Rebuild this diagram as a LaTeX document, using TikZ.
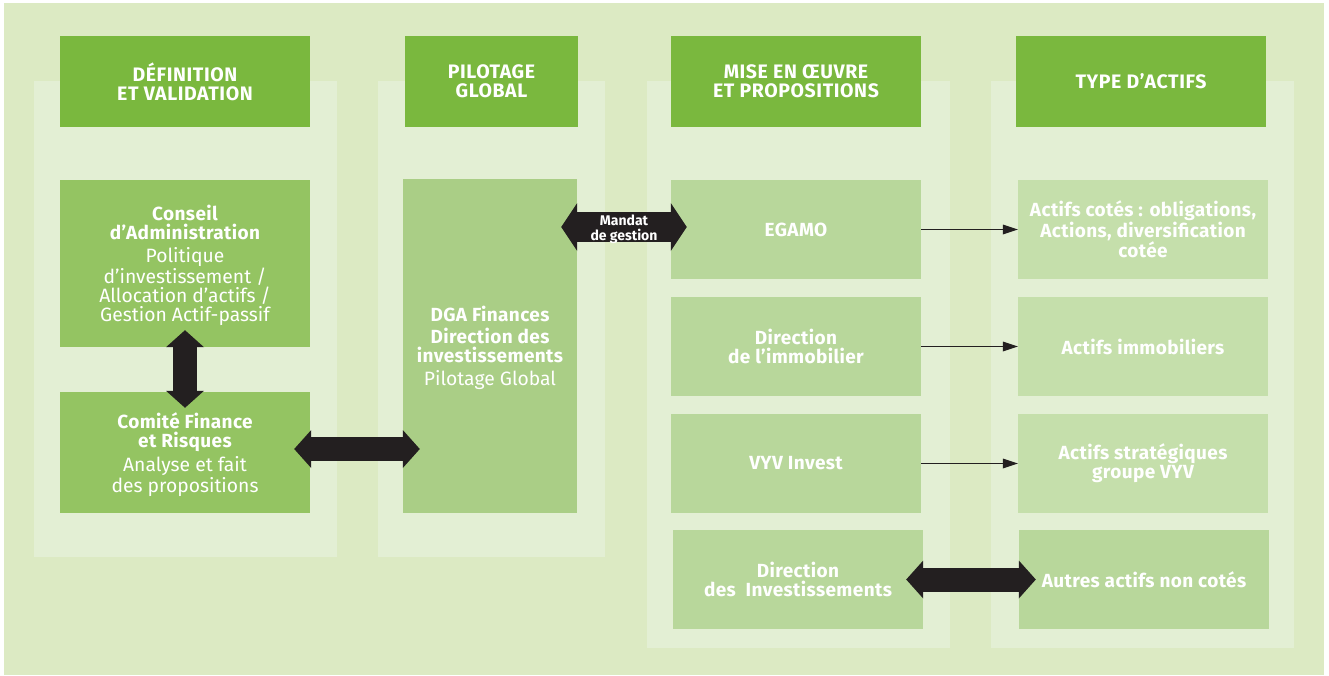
\documentclass[tikz,border=0pt]{standalone}
\usepackage{fontspec}
\setmainfont{Fira Sans}
\usetikzlibrary{arrows.meta}
\definecolor{BackClr}{RGB}{220,234,195}
\definecolor{PanelClr}{RGB}{227,239,212}
\definecolor{HeadClr}{RGB}{122,184,62}
\definecolor{BoardClr}{RGB}{148,196,98}
\definecolor{PilotClr}{RGB}{170,206,134}
\definecolor{ActorClr}{RGB}{184,215,155}
\definecolor{AssetClr}{RGB}{197,223,171}
\definecolor{ArrowClr}{RGB}{35,31,32}
\newcommand{\subtxt}{\normalfont\fontsize{19.3}{19.5}\selectfont}

\tikzset{
  box/.style={inner sep=0pt, text=white, align=center, minimum width=250pt,
    font=\fontsize{19}{19}\selectfont\bfseries\addfontfeature{LetterSpace=2}},
  head/.style={box, fill=HeadClr, minimum height=91pt,
    font=\fontsize{19.5}{19}\selectfont\bfseries\addfontfeature{LetterSpace=3}},
  board/.style={box, fill=BoardClr},
  actor/.style={box, fill=ActorClr, minimum height=99pt},
  asset/.style={box, fill=AssetClr, minimum height=99pt},
  bigtip/.tip={Triangle[length=17pt,width=38pt,line width=0pt]},
  mdtip/.tip={Triangle[length=16pt,width=48pt,line width=0pt]},
  bigarrow/.style={ArrowClr, line width=24pt, bigtip-bigtip},
  thinarrow/.style={ArrowClr, line width=1.8pt, -{Triangle[length=15pt,width=10pt,line width=0pt]}}
}

\begin{document}
\begin{tikzpicture}[x=1pt,y=-1pt]
\useasboundingbox (0,0) rectangle (1329,675);
\fill[BackClr] (4,3) rectangle (1324,675);
% column panels
\foreach \xa/\xb/\yb in {34/337/557, 378/605/557, 647/950/648, 991/1294/648}
  \fill[PanelClr] (\xa,81) rectangle (\xb,\yb);

% headers
\node[head] (defval) at (185,81.5) {DÉFINITION\\ET VALIDATION};
\node[head, minimum width=173pt] (pilot) at (491.5,81.5) {PILOTAGE\\GLOBAL};
\node[head] (mise) at (796,81.5) {MISE EN ŒUVRE\\ET PROPOSITIONS};
\node[head] (type) at (1141,81.5) {TYPE D'ACTIFS};

% definition et validation
\node[board, minimum height=167pt, text depth=-1pt] (conseil) at (185,263.5)
  {Conseil\\d’Administration\\[4pt]\subtxt Politique\\\subtxt d’investissement /\\\subtxt Allocation d’actifs /\\\subtxt Gestion Actif-passif};
\node[board, minimum height=121pt, text depth=-1.5pt] (comite) at (185,452.5)
  {Comité Finance\\et Risques\\[4pt]\subtxt Analyse et fait\\\subtxt des propositions};

% pilotage
\node[box, fill=PilotClr, minimum width=174pt, minimum height=334pt, text depth=-3pt] (dga) at (490,346)
  {DGA Finances\\[3pt]Direction des\\investissements\\[4pt]\subtxt Pilotage Global};

% mise en oeuvre
\node[actor] (egamo) at (796,229.5) {EGAMO};
\node[actor] (dimmo) at (796,346.5) {Direction\\de l’immobilier};
\node[actor] (vyv) at (796,463.5) {VYV Invest};
\node[actor] (dinv) at (798,579.5) {Direction\\des~~Investissements};

% types d'actifs
\node[asset] (cotes) at (1143,229.5) {Actifs cotés : obligations,\\Actions, diversification\\cotée};
\node[asset] (immo) at (1143,346.5) {Actifs immobiliers};
\node[asset] (strat) at (1143,463.5) {Actifs stratégiques\\groupe VYV};
\node[actor] (autres) at (1144,579.5) {Autres actifs non cotés};

% liens
\draw[bigarrow] ([yshift=17pt]conseil.south) -- ([yshift=-16pt]comite.north);
\coordinate (cfL) at ([shift={(-16pt,3.5pt)}]comite.east);
\coordinate (cfR) at (cfL -| dga.west);
\draw[bigarrow] (cfL) -- ([xshift=17pt]cfR);
\coordinate (mdR) at ([yshift=2.5pt]egamo.west);
\coordinate (mdL) at (mdR -| dga.east);
\draw[ArrowClr, line width=30pt, mdtip-mdtip]
  ([xshift=-16pt]mdL) -- node[yshift=-2pt, text=white, align=center, font=\fontsize{14}{15}\selectfont\bfseries] {Mandat\\de gestion} ([xshift=16pt]mdR);
\draw[bigarrow] ([xshift=-17pt]dinv.east) -- ([xshift=17pt]autres.west);
\draw[thinarrow] (egamo.east) -- (cotes.west);
\draw[thinarrow] (dimmo.east) -- (immo.west);
\draw[thinarrow] (vyv.east) -- (strat.west);

\end{tikzpicture}
\end{document}
